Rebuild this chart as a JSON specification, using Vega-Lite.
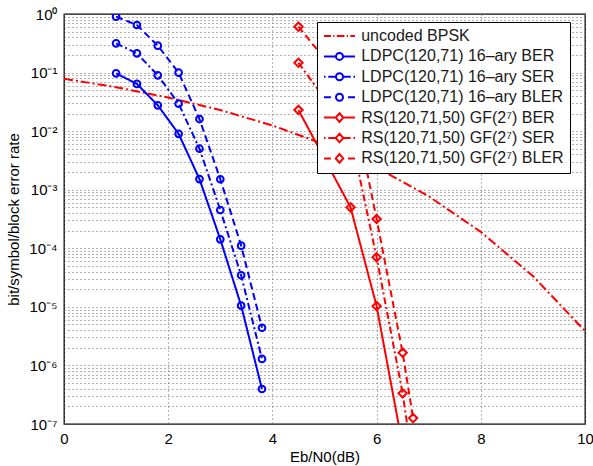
{
  "$schema": "https://vega.github.io/schema/vega-lite/v6.json",
  "autosize": {"type": "none"},
  "padding": {"left": 64, "top": 14, "right": 8, "bottom": 42},
  "width": 521,
  "height": 410,
  "config": {
    "view": {"stroke": "black", "strokeWidth": 1.3},
    "font": "Liberation Sans",
    "axis": {
      "labelFont": "Liberation Sans", "labelFontSize": 15, "labelColor": "#000",
      "titleFont": "Liberation Sans", "titleFontSize": 15, "titleFontWeight": "normal", "titleColor": "#000",
      "ticks": false, "tickSize": 0, "domain": false,
      "gridColor": "#666", "gridDash": [1, 3], "gridWidth": 1, "gridOpacity": 1,
      "labelFlush": false, "labelOverlap": false
    },
    "legend": {
      "labelFont": "Liberation Sans", "labelFontSize": 16, "labelColor": "#1a1a1a",
      "fillColor": "white", "strokeColor": "black", "padding": 6,
      "symbolSize": 324, "symbolStrokeWidth": 2, "symbolOffset": 6.5, "rowPadding": 4.4, "labelOffset": 11.7,
      "clipHeight": 16, "labelLimit": 400
    }
  },
  "data": {"values": [
    {"s": "uncoded BPSK", "x": 0, "y": 0.0786},
    {"s": "uncoded BPSK", "x": 1, "y": 0.0563},
    {"s": "uncoded BPSK", "x": 2, "y": 0.0375},
    {"s": "uncoded BPSK", "x": 3, "y": 0.0229},
    {"s": "uncoded BPSK", "x": 4, "y": 0.0125},
    {"s": "uncoded BPSK", "x": 5, "y": 0.00595},
    {"s": "uncoded BPSK", "x": 6, "y": 0.00239},
    {"s": "uncoded BPSK", "x": 7, "y": 0.000773},
    {"s": "uncoded BPSK", "x": 8, "y": 0.000191},
    {"s": "uncoded BPSK", "x": 9, "y": 0.0000336},
    {"s": "uncoded BPSK", "x": 10, "y": 0.00000387},
    {"s": "LDPC(120,71) 16–ary BER", "x": 1.0, "y": 0.097},
    {"s": "LDPC(120,71) 16–ary BER", "x": 1.4, "y": 0.064},
    {"s": "LDPC(120,71) 16–ary BER", "x": 1.8, "y": 0.0276},
    {"s": "LDPC(120,71) 16–ary BER", "x": 2.2, "y": 0.0090},
    {"s": "LDPC(120,71) 16–ary BER", "x": 2.6, "y": 0.00152},
    {"s": "LDPC(120,71) 16–ary BER", "x": 3.0, "y": 0.000142},
    {"s": "LDPC(120,71) 16–ary BER", "x": 3.4, "y": 0.0000105},
    {"s": "LDPC(120,71) 16–ary BER", "x": 3.8, "y": 0.000000396},
    {"s": "LDPC(120,71) 16–ary SER", "x": 1.0, "y": 0.316},
    {"s": "LDPC(120,71) 16–ary SER", "x": 1.4, "y": 0.213},
    {"s": "LDPC(120,71) 16–ary SER", "x": 1.8, "y": 0.0898},
    {"s": "LDPC(120,71) 16–ary SER", "x": 2.2, "y": 0.0294},
    {"s": "LDPC(120,71) 16–ary SER", "x": 2.6, "y": 0.00501},
    {"s": "LDPC(120,71) 16–ary SER", "x": 3.0, "y": 0.00045},
    {"s": "LDPC(120,71) 16–ary SER", "x": 3.4, "y": 0.0000346},
    {"s": "LDPC(120,71) 16–ary SER", "x": 3.8, "y": 0.00000129},
    {"s": "LDPC(120,71) 16–ary BLER", "x": 1.0, "y": 0.90},
    {"s": "LDPC(120,71) 16–ary BLER", "x": 1.4, "y": 0.649},
    {"s": "LDPC(120,71) 16–ary BLER", "x": 1.8, "y": 0.288},
    {"s": "LDPC(120,71) 16–ary BLER", "x": 2.2, "y": 0.0995},
    {"s": "LDPC(120,71) 16–ary BLER", "x": 2.6, "y": 0.0161},
    {"s": "LDPC(120,71) 16–ary BLER", "x": 3.0, "y": 0.00151},
    {"s": "LDPC(120,71) 16–ary BLER", "x": 3.4, "y": 0.000111},
    {"s": "LDPC(120,71) 16–ary BLER", "x": 3.8, "y": 0.0000044},
    {"s": "RS(120,71,50) GF(2⁷) BER", "x": 4.5, "y": 0.0230},
    {"s": "RS(120,71,50) GF(2⁷) BER", "x": 5.5, "y": 0.00050},
    {"s": "RS(120,71,50) GF(2⁷) BER", "x": 6.0, "y": 0.0000103},
    {"s": "RS(120,71,50) GF(2⁷) BER", "x": 6.5, "y": 0.000000042},
    {"s": "RS(120,71,50) GF(2⁷) SER", "x": 4.5, "y": 0.147},
    {"s": "RS(120,71,50) GF(2⁷) SER", "x": 5.5, "y": 0.0089},
    {"s": "RS(120,71,50) GF(2⁷) SER", "x": 6.0, "y": 0.000070},
    {"s": "RS(120,71,50) GF(2⁷) SER", "x": 6.5, "y": 0.000000334},
    {"s": "RS(120,71,50) GF(2⁷) SER", "x": 6.7, "y": 0.00000002},
    {"s": "RS(120,71,50) GF(2⁷) BLER", "x": 4.5, "y": 0.607},
    {"s": "RS(120,71,50) GF(2⁷) BLER", "x": 5.5, "y": 0.049},
    {"s": "RS(120,71,50) GF(2⁷) BLER", "x": 6.0, "y": 0.000316},
    {"s": "RS(120,71,50) GF(2⁷) BLER", "x": 6.5, "y": 0.00000165},
    {"s": "RS(120,71,50) GF(2⁷) BLER", "x": 6.7, "y": 0.000000126}
  ]},
  "encoding": {
    "x": {"field": "x", "type": "quantitative",
      "scale": {"domain": [0, 10], "nice": false, "zero": false},
      "axis": {"values": [0, 2, 4, 6, 8, 10], "title": "Eb/N0(dB)", "labelPadding": 7, "titlePadding": 3}},
    "y": {"field": "y", "type": "quantitative",
      "scale": {"type": "log", "domain": [0.0000001, 1], "nice": false},
      "axis": {
        "title": "bit/symbol/block error rate", "labelPadding": 7, "titlePadding": 7,
        "values": [1e-7,2e-7,3e-7,4e-7,5e-7,6e-7,7e-7,8e-7,9e-7,1e-6,2e-6,3e-6,4e-6,5e-6,6e-6,7e-6,8e-6,9e-6,1e-5,2e-5,3e-5,4e-5,5e-5,6e-5,7e-5,8e-5,9e-5,1e-4,2e-4,3e-4,4e-4,5e-4,6e-4,7e-4,8e-4,9e-4,1e-3,2e-3,3e-3,4e-3,5e-3,6e-3,7e-3,8e-3,9e-3,1e-2,2e-2,3e-2,4e-2,5e-2,6e-2,7e-2,8e-2,9e-2,1e-1,2e-1,3e-1,4e-1,5e-1,6e-1,7e-1,8e-1,9e-1,1],
        "labelExpr": "abs(log(datum.value)/LN10 - round(log(datum.value)/LN10)) < 0.001 ? '10' + ['⁰','⁻¹','⁻²','⁻³','⁻⁴','⁻⁵','⁻⁶','⁻⁷'][-round(log(datum.value)/LN10)] : ''"
      }}
  },
  "layer": [
    {
      "mark": {"type": "line", "strokeWidth": 2, "clip": true},
      "encoding": {
        "color": {"field": "s", "type": "nominal",
          "scale": {"domain": ["uncoded BPSK", "LDPC(120,71) 16–ary BER", "LDPC(120,71) 16–ary SER", "LDPC(120,71) 16–ary BLER", "RS(120,71,50) GF(2⁷) BER", "RS(120,71,50) GF(2⁷) SER", "RS(120,71,50) GF(2⁷) BLER"],
            "range": ["#ff0000", "#0000ff", "#0000ff", "#0000ff", "#ff0000", "#ff0000", "#ff0000"]}},
        "strokeDash": {"field": "s", "type": "nominal", "legend": null,
          "scale": {"domain": ["RS(120,71,50) GF(2⁷) BLER", "RS(120,71,50) GF(2⁷) SER", "RS(120,71,50) GF(2⁷) BER", "LDPC(120,71) 16–ary BLER", "LDPC(120,71) 16–ary SER", "LDPC(120,71) 16–ary BER", "uncoded BPSK"],
            "range": [[7, 4], [7, 3, 2, 3], [1, 0], [7, 4], [7, 3, 2, 3], [1, 0], [9, 3, 2, 3]]}}
      }
    },
    {
      "transform": [{"filter": "indexof(datum.s, 'LDPC') === 0"}],
      "mark": {"type": "point", "shape": "circle", "filled": false, "strokeWidth": 2, "size": 45, "opacity": 1, "clip": true},
      "encoding": {"color": {"field": "s", "type": "nominal"}}
    },
    {
      "transform": [{"filter": "indexof(datum.s, 'RS') === 0"}],
      "mark": {"type": "point", "shape": "diamond", "filled": false, "strokeWidth": 2, "size": 70, "opacity": 1, "clip": true},
      "encoding": {"color": {"field": "s", "type": "nominal"}}
    },
    {
      "transform": [{"filter": "datum.x > 100"}],
      "mark": {"type": "point", "filled": false, "strokeWidth": 2, "opacity": 1, "clip": true},
      "encoding": {
        "color": {"field": "s", "type": "nominal",
          "legend": {"title": null, "orient": "none", "legendX": 253, "legendY": 8}},
        "shape": {"field": "s", "type": "nominal",
          "scale": {"domain": ["uncoded BPSK", "LDPC(120,71) 16–ary BER", "LDPC(120,71) 16–ary SER", "LDPC(120,71) 16–ary BLER", "RS(120,71,50) GF(2⁷) BER", "RS(120,71,50) GF(2⁷) SER", "RS(120,71,50) GF(2⁷) BLER"],
            "range": [
              "M-1.72,0H-0.95M-0.7,0H-0.55M-0.3,0H0.55M0.8,0H0.95M1.2,0H1.72",
              "M-1.72,0H-0.39M0.39,0H1.72M0.39,0A0.39,0.39 0 1,1 -0.39,0A0.39,0.39 0 1,1 0.39,0",
              "M-1.72,0H-1.55M-1.25,0H-0.39M0.39,0H1.25M1.55,0H1.72M0.39,0A0.39,0.39 0 1,1 -0.39,0A0.39,0.39 0 1,1 0.39,0",
              "M-1.72,0H-0.95M0.95,0H1.72M0.39,0A0.39,0.39 0 1,1 -0.39,0A0.39,0.39 0 1,1 0.39,0",
              "M-1.72,0H-0.42M0.42,0H1.72M0,-0.48L0.42,0L0,0.48L-0.42,0Z",
              "M-1.72,0H-1.55M-1.25,0H-0.42M0.42,0H1.25M1.55,0H1.72M0,-0.48L0.42,0L0,0.48L-0.42,0Z",
              "M-1.72,0H-0.95M0.95,0H1.72M0,-0.48L0.42,0L0,0.48L-0.42,0Z"
            ]},
          "legend": {"title": null, "orient": "none", "legendX": 253, "legendY": 8}}
      }
    }
  ]
}
